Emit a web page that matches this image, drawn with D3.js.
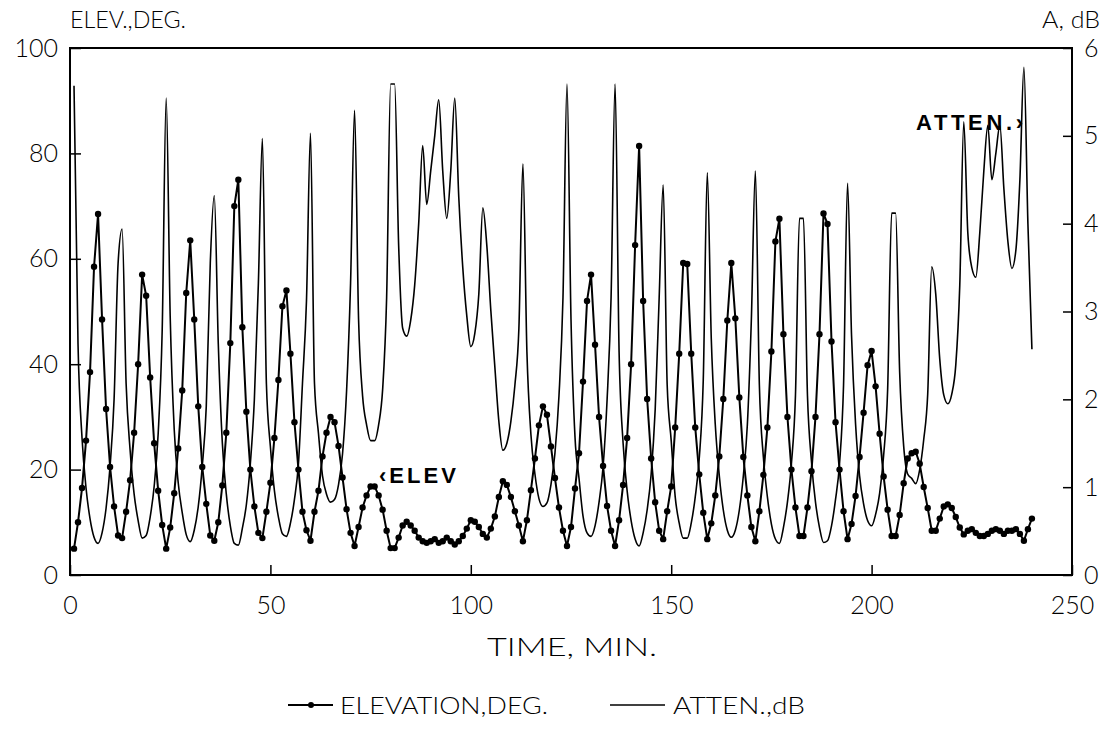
<!DOCTYPE html>
<html>
<head>
<meta charset="utf-8">
<script src="https://d3js.org/d3.v7.min.js"></script>
<style>
  body { margin: 0; background: #fff; }
  .axis text { font-family: "Lato", "Liberation Sans", sans-serif; font-weight: 300; font-size: 25px; fill: #000; }
  .axis line { stroke: #000; stroke-width: 1.5px; }
  .lbl { font-family: "Lato", "Liberation Sans", sans-serif; font-weight: 300; fill: #000; }
  .note { font-family: "Liberation Sans", Arial, sans-serif; font-weight: bold; font-size: 22px; fill: #000; }
</style>
</head>
<body>
<div class="chart_box"></div>
<script>
// minutes at which both series were sampled
var minutes = d3.range(1, 241);

var elevation = [
  5.0, 10.0, 16.5, 25.5, 38.5, 58.5, 68.5, 48.5, 31.5, 20.5,
  13.0, 7.5, 7.0, 12.0, 18.0, 27.0, 40.0, 57.0, 53.0, 37.5,
  25.0, 16.0, 9.5, 5.0, 9.0, 15.5, 24.0, 35.0, 53.5, 63.5,
  48.5, 32.0, 20.5, 13.5, 7.5, 6.5, 10.0, 17.0, 27.0, 44.0,
  70.0, 75.0, 47.0, 31.0, 20.0, 13.0, 8.0, 7.0, 12.0, 17.5,
  26.0, 37.0, 51.0, 54.0, 42.0, 29.0, 20.0, 12.0, 8.5, 6.5,
  12.0, 16.0, 22.5, 27.0, 30.0, 29.0, 24.5, 18.5, 12.5, 8.0,
  5.5, 9.1, 12.8, 15.1, 16.8, 16.8, 15.1, 12.4, 8.4, 5.1,
  5.1, 7.1, 9.4, 10.1, 9.4, 8.4, 7.1, 6.4, 6.1, 6.4,
  6.8, 6.1, 6.4, 7.1, 6.4, 5.8, 6.4, 7.4, 8.8, 10.4,
  10.1, 9.1, 7.8, 7.1, 8.8, 11.1, 14.8, 17.8, 17.1, 14.8,
  12.1, 9.4, 6.4, 10.4, 16.1, 22.1, 28.4, 32.0, 30.4, 24.4,
  18.4, 12.8, 8.4, 5.5, 9.1, 16.4, 23.1, 36.7, 52.0, 57.0,
  43.7, 30.0, 20.7, 13.1, 8.4, 5.5, 10.4, 17.1, 26.0, 40.0,
  62.6, 81.4, 52.0, 33.4, 22.1, 13.8, 8.4, 6.8, 12.1, 16.8,
  28.0, 42.0, 59.2, 59.0, 42.0, 28.0, 19.1, 11.8, 6.8, 9.8,
  15.1, 22.5, 33.4, 48.3, 59.2, 48.7, 33.7, 22.4, 15.1, 9.1,
  6.4, 12.1, 19.0, 28.0, 42.4, 63.3, 67.6, 45.7, 30.0, 20.0,
  12.8, 7.4, 7.4, 12.8, 19.7, 30.0, 45.7, 68.6, 66.6, 44.3,
  29.0, 20.0, 12.1, 6.8, 9.7, 15.0, 22.4, 30.8, 39.8, 42.5,
  35.8, 26.8, 18.7, 12.4, 7.4, 7.4, 11.4, 17.4, 22.1, 23.1,
  23.4, 21.1, 16.7, 12.7, 8.4, 8.4, 10.7, 13.0, 13.4, 12.7,
  11.0, 9.0, 7.7, 8.4, 8.7, 8.0, 7.4, 7.4, 7.8, 8.4,
  8.7, 8.4, 7.8, 8.4, 8.4, 8.7, 7.8, 6.5, 8.7, 10.7
];

var atten = [
  5.57, 2.63, 1.56, 0.99, 0.64, 0.43, 0.36, 0.48, 0.76, 1.24,
  2.00, 3.55, 3.94, 2.18, 1.42, 0.92, 0.62, 0.42, 0.45, 0.66,
  1.01, 1.61, 2.78, 5.43, 2.94, 1.66, 1.05, 0.71, 0.46, 0.38,
  0.51, 0.78, 1.24, 1.92, 3.55, 4.32, 2.63, 1.51, 0.92, 0.56,
  0.36, 0.34, 0.53, 0.80, 1.27, 2.00, 3.32, 4.97, 2.18, 1.46,
  0.96, 0.66, 0.47, 0.44, 0.59, 0.86, 1.27, 2.18, 3.12, 5.03,
  2.18, 1.61, 1.13, 0.92, 0.83, 0.86, 1.03, 1.38, 2.09, 3.32,
  5.29, 2.91, 2.04, 1.71, 1.53, 1.53, 1.71, 2.11, 3.16, 5.59,
  5.59, 3.75, 2.81, 2.72, 2.90, 3.30, 4.00, 4.89, 4.22, 4.60,
  5.00, 5.41, 4.60, 4.06, 4.60, 5.43, 4.30, 3.50, 2.95, 2.60,
  2.75, 3.20, 4.18, 3.75, 3.01, 2.37, 1.75, 1.42, 1.50, 1.75,
  2.16, 2.81, 4.68, 2.54, 1.60, 1.15, 0.87, 0.78, 0.82, 1.03,
  1.39, 2.04, 3.16, 5.59, 2.91, 1.57, 1.10, 0.67, 0.48, 0.44,
  0.56, 0.83, 1.23, 1.99, 3.16, 5.59, 2.54, 1.50, 0.96, 0.62,
  0.41, 0.33, 0.48, 0.74, 1.15, 1.88, 3.16, 4.44, 2.16, 1.53,
  0.89, 0.59, 0.42, 0.42, 0.59, 0.89, 1.33, 2.22, 4.58, 2.69,
  1.71, 1.13, 0.74, 0.51, 0.43, 0.51, 0.74, 1.13, 1.71, 2.91,
  4.60, 2.16, 1.34, 0.89, 0.58, 0.41, 0.36, 0.54, 0.83, 1.27,
  2.04, 4.06, 4.06, 2.04, 1.29, 0.83, 0.54, 0.37, 0.39, 0.56,
  0.86, 1.27, 2.16, 4.46, 2.72, 1.72, 1.13, 0.81, 0.62, 0.56,
  0.69, 0.93, 1.36, 2.11, 4.12, 4.12, 2.31, 1.47, 1.15, 1.10,
  1.04, 1.20, 1.54, 2.06, 3.51, 3.20, 2.46, 2.05, 1.95, 2.06,
  2.39, 3.30, 5.16, 3.90, 3.50, 3.39, 3.90, 4.60, 5.12, 4.50,
  4.80, 5.12, 4.40, 3.80, 3.49, 3.70, 4.50, 5.78, 4.00, 2.57
];

var timeTicks = [0, 50, 100, 150, 200, 250];
var elevTicks = [0, 20, 40, 60, 80, 100];
var attenTicks = [0, 1, 2, 3, 4, 5, 6];

var margin = {top: 48, right: 34, bottom: 155, left: 70};
var width = 1002;
var height = 527;

var svg = d3.select('.chart_box')
            .append("svg")
            .attr("width", 1106)
            .attr("height", 730);

var g = svg.append("g")
           .attr("transform", "translate(" + margin.left + "," + margin.top + ")");

var x = d3.scaleLinear().domain([0, 250]).range([0, width]);
var y = d3.scaleLinear().domain([0, 100]).range([height, 0]);
var y2 = d3.scaleLinear().domain([0, 6]).range([height, 0]);

// axes with ticks pointing into the frame
g.append("g")
    .attr("class", "axis")
    .attr("transform", "translate(0," + height + ")")
    .call(d3.axisBottom(x).tickValues(timeTicks).tickFormat(d3.format("d"))
            .tickSize(-10).tickPadding(21));

g.append("g")
    .attr("class", "axis")
    .call(d3.axisLeft(y).tickValues(elevTicks).tickFormat(d3.format("d"))
            .tickSize(-11).tickPadding(12));

g.append("g")
    .attr("class", "axis")
    .attr("transform", "translate(" + width + ",0)")
    .call(d3.axisRight(y2).tickValues(attenTicks).tickFormat(d3.format("d"))
            .tickSize(-9).tickPadding(12));

g.selectAll(".axis .domain").remove();

g.append("rect")
    .attr("width", width)
    .attr("height", height)
    .attr("fill", "none")
    .attr("stroke", "black")
    .attr("stroke-width", 2);

// attenuation line (smooth troughs, sharp spikes)
var attenLine = d3.line()
    .x(function(d, i) { return x(minutes[i]); })
    .y(function(d) { return y2(d); })
    .curve(d3.curveMonotoneX);

g.append("path")
    .datum(atten)
    .attr("d", attenLine)
    .attr("fill", "none")
    .attr("stroke", "black")
    .attr("stroke-width", 1.6)
    .attr("stroke-linejoin", "round");

// elevation line + dots
var elevLine = d3.line()
    .x(function(d, i) { return x(minutes[i]); })
    .y(function(d) { return y(d); });

g.append("path")
    .datum(elevation)
    .attr("d", elevLine)
    .attr("fill", "none")
    .attr("stroke", "black")
    .attr("stroke-width", 2)
    .attr("stroke-linejoin", "round");

g.selectAll("circle.dot")
    .data(elevation)
    .enter().append("circle")
    .attr("class", "dot")
    .attr("cx", function(d, i) { return x(minutes[i]); })
    .attr("cy", function(d) { return y(d); })
    .attr("r", 3.2)
    .attr("fill", "black");

// in-plot notes
g.append("text")
    .attr("class", "note")
    .attr("x", 309)
    .attr("y", 435)
    .attr("textLength", 77)
    .attr("lengthAdjust", "spacing")
    .text("\u2039ELEV");

g.append("text")
    .attr("class", "note")
    .attr("x", 846)
    .attr("y", 82)
    .attr("textLength", 107)
    .attr("lengthAdjust", "spacing")
    .text("ATTEN.\u203a");

// axis titles
svg.append("text")
    .attr("class", "lbl")
    .attr("x", 70)
    .attr("y", 28)
    .attr("font-size", "24px")
    .attr("textLength", 116)
    .attr("lengthAdjust", "spacingAndGlyphs")
    .text("ELEV.,DEG.");

svg.append("text")
    .attr("class", "lbl")
    .attr("x", 1042)
    .attr("y", 28)
    .attr("font-size", "24px")
    .attr("textLength", 58)
    .attr("lengthAdjust", "spacingAndGlyphs")
    .text("A, dB");

svg.append("text")
    .attr("class", "lbl")
    .attr("x", 487)
    .attr("y", 656)
    .attr("font-size", "26px")
    .attr("textLength", 170)
    .attr("lengthAdjust", "spacingAndGlyphs")
    .text("TIME, MIN.");

// legend
var legend = svg.append("g").attr("transform", "translate(0,705)");

legend.append("line")
    .attr("x1", 288).attr("x2", 333)
    .attr("stroke", "black").attr("stroke-width", 1.8);
legend.append("circle")
    .attr("cx", 311).attr("r", 3).attr("fill", "black");
legend.append("text")
    .attr("class", "lbl")
    .attr("x", 340)
    .attr("y", 9)
    .attr("font-size", "24px")
    .attr("textLength", 208)
    .attr("lengthAdjust", "spacingAndGlyphs")
    .text("ELEVATION,DEG.");

legend.append("line")
    .attr("x1", 610).attr("x2", 665)
    .attr("stroke", "black").attr("stroke-width", 1.5);
legend.append("text")
    .attr("class", "lbl")
    .attr("x", 673)
    .attr("y", 9)
    .attr("font-size", "24px")
    .attr("textLength", 132)
    .attr("lengthAdjust", "spacingAndGlyphs")
    .text("ATTEN.,dB");
</script>
</body>
</html>
